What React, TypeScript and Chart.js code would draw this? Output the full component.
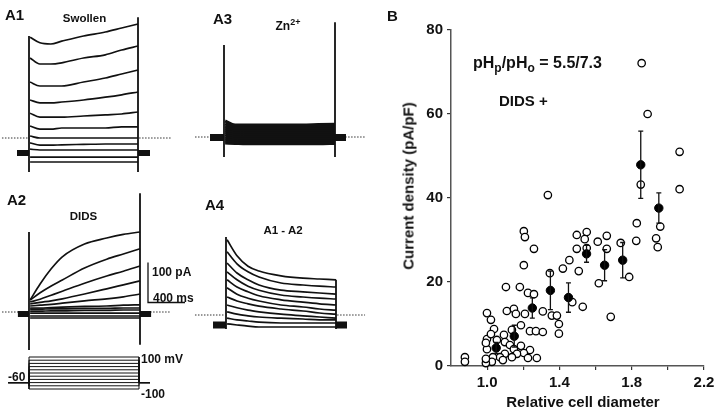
import React, { useEffect, useRef } from "react";
import { Chart, registerables } from "chart.js";

Chart.register(...registerables);

// ================= Panel A: whole-cell current traces =================
const stepVoltagesMv = [100, 80, 60, 40, 20, 0, -20, -40, -60, -80, -100];
const holdingMv = -60;
const stepDurationMs = 1000;
const traceTimesMs = [10, 100, 200, 300, 500, 700, 850, 1000];

// A1 swollen (pA), one row per step voltage (+100 ... -100 mV)
const a1SwollenPa = [
  [252, 238, 235, 242, 255, 265, 275, 285],
  [200, 185, 185, 188, 200, 208, 220, 230],
  [140, 130, 130, 130, 140, 150, 160, 170],
  [95, 88, 88, 90, 95, 102, 108, 115],
  [62, 52, 52, 52, 55, 58, 60, 65],
  [30, 22, 22, 25, 25, 25, 28, 28],
  [5, 0, 0, 0, 0, 0, 0, 0],
  [-12, -18, -18, -17, -16, -15, -15, -15],
  [-28, -30, -30, -30, -30, -30, -30, -30],
  [-48, -48, -48, -48, -48, -48, -48, -48],
  [-60, -60, -60, -60, -60, -60, -60, -60],
];
// A2 DIDS (pA)
const a2DidsPa = [
  [30, 70, 108, 138, 170, 185, 194, 200],
  [30, 48, 65, 80, 110, 132, 145, 158],
  [25, 32, 42, 52, 72, 90, 102, 115],
  [20, 24, 28, 33, 45, 58, 68, 78],
  [15, 17, 19, 22, 28, 33, 38, 45],
  [10, 10, 11, 12, 14, 15, 17, 18],
  [7, 7, 8, 8, 9, 9, 10, 10],
  [2, 2, 3, 3, 4, 4, 5, 5],
  [-3, -3, -3, -3, -3, -3, -3, -3],
  [-10, -10, -10, -10, -10, -10, -10, -10],
  [-15, -15, -15, -15, -15, -15, -15, -15],
];
// A3 Zn2+ (pA)
const a3ZincPa = [
  [40, 30, 30, 30, 30, 30, 31, 32],
  [33, 26, 26, 26, 26, 26, 27, 27],
  [27, 22, 22, 22, 22, 22, 22, 22],
  [22, 18, 17, 17, 17, 17, 17, 18],
  [17, 13, 12, 12, 12, 12, 12, 13],
  [12, 8, 7, 7, 7, 7, 7, 8],
  [6, 3, 2, 2, 2, 2, 2, 3],
  [0, -2, -3, -3, -3, -3, -3, -2],
  [-5, -7, -8, -8, -8, -8, -8, -7],
  [-10, -12, -13, -13, -13, -13, -13, -12],
  [-15, -16, -17, -17, -17, -17, -17, -16],
];
// A4 A1 - A2 (pA)
const a4DiffPa = [
  [188, 148, 122, 110, 98, 92, 90, 88],
  [158, 128, 108, 95, 80, 75, 72, 70],
  [130, 105, 88, 75, 62, 58, 55, 52],
  [108, 88, 72, 62, 50, 45, 42, 40],
  [88, 70, 58, 48, 38, 32, 28, 25],
  [68, 52, 42, 35, 25, 20, 15, 12],
  [45, 35, 28, 22, 15, 10, 5, 2],
  [25, 18, 12, 8, 2, -2, -5, -8],
  [8, 2, -2, -5, -8, -10, -12, -12],
  [-8, -12, -15, -18, -20, -20, -20, -20],
  [-22, -25, -28, -30, -30, -30, -30, -30],
];

const a1HoldingPa = -37.5;
const a2HoldingPa = -5;
const a3HoldingPa = -1;
const a4HoldingPa = -25;
const a1HoldingTimesMs = [-110, 0, 1000, 1110];
const a2HoldingTimesMs = [-100, 0, 1000, 1100];
const a3HoldingTimesMs = [-126, 0, 1000, 1099];
const a4HoldingTimesMs = [-118, 0, 1000, 1100];
const a1ZeroTimesMs = [-248, -10, 1010, 1311];
const a2ZeroTimesMs = [-243, -10, 1010, 1270];
const a3ZeroTimesMs = [-261, -10, 1010, 1270];
const a4ZeroTimesMs = [-282, -10, 1010, 1264];
const a1OnsetPa = [255, -85];
const a1OffsetPa = [302, -85];
const a2OnsetPa = [200, -95];
const a2OffsetPa = [297, -82];
const a3OnsetPa = [230, -50];
const a3OffsetPa = [287, -50];
const a4OnsetPa = [195, -35];
const a4OffsetPa = [88, -35];

const protocolTimesMs = [-190, 0, 1000, 1100];
const scaleBarPa = 100;
const scaleBarMs = 400;

// ================= Panel B: current density vs diameter =================
const cellDiameter = [
  1.855, 1.888, 2.065, 1.85, 2.065, 1.336, 1.828, 1.958, 1.825, 1.935, 1.944,
  1.496, 1.551, 1.54, 1.496, 1.551, 1.612, 1.662, 1.662, 1.739, 1.455, 1.419,
  1.507, 1.347, 1.618, 1.786, 1.203, 1.209, 1.259, 1.203, 1.104, 1.181, 1.226,
  1.259, 1.471, 1.529, 1.684,
  0.999, 1.021, 1.109, 1.148, 1.159, 1.209, 1.308, 1.358, 1.386, 1.187, 1.397,
  1.038, 1.137, 1.237, 1.27, 1.308, 1.397, 0.999, 1.054, 1.021, 1.093, 0.999,
  0.993, 1.098, 1.126, 1.148, 1.187, 1.237, 1.203, 1.165, 1.137, 1.098, 1.071,
  1.032, 1.275, 1.226, 1.026, 1.087, 0.993, 0.993, 0.877, 0.877,
];
const cellDensity = [
  72.1, 60.0, 51.0, 43.2, 42.1, 40.7, 34.0, 33.2, 29.8, 30.4, 28.3,
  31.2, 31.9, 30.2, 27.9, 28.1, 29.6, 31.0, 27.9, 29.3, 25.2, 23.2,
  22.6, 22.1, 19.7, 21.2, 32.1, 30.7, 27.9, 24.0, 18.8, 18.8, 17.4,
  17.1, 15.2, 14.1, 11.7,
  12.6, 11.0, 13.1, 13.6, 12.4, 12.4, 13.0, 12.0, 12.0, 9.7, 10.0,
  8.8, 8.6, 8.3, 8.3, 8.1, 7.7, 6.4, 6.2, 7.6, 7.4, 4.0,
  5.5, 5.7, 5.0, 4.0, 4.8, 3.8, 3.1, 2.9, 2.1, 2.9, 2.1,
  2.1, 1.9, 1.9, 1.0, 1.4, 0.7, 1.7, 2.1, 1.0,
];
const binDiameter = [1.05, 1.15, 1.25, 1.35, 1.45, 1.55, 1.65, 1.75, 1.85, 1.95];
const binMeanDensity = [4.3, 7.1, 13.8, 18.0, 16.3, 26.7, 24.0, 25.2, 47.9, 37.6];
const binSemDensity = [1.3, 2.6, 2.4, 4.6, 3.5, 2.0, 3.7, 4.2, 8.0, 3.6];
const xTickValues = [1.0, 1.2, 1.4, 1.6, 1.8, 2.0, 2.2];
const xTickLabels = ["1.0", "", "1.4", "", "1.8", "", "2.2"];
const yTickValues = [0, 20, 40, 60, 80];
const yTickLabels = ["0", "20", "40", "60", "80"];

// ================= layout & style =================
const FONT = '"Liberation Sans", Arial, Helvetica, sans-serif';
const INK = "#111";
const PA_PER_PX = 2.5;

type Box = { left: number; top: number; width: number; height: number };

type TraceSpec = {
  box: Box;
  stepStartPx: number;
  stepEndPx: number;
  zeroPx: number;
  currents: number[][];
  holding: number;
  holdingTimes: number[];
  zeroTimes: number[];
  onset: number[];
  offset: number[];
  traceWidth: number;
  holdingWidth: number;
  scaleBarCorner?: { x: number; y: number };
};

const straight = {
  pointRadius: 0,
  tension: 0,
  cubicInterpolationMode: "default",
  borderColor: INK,
  fill: false,
  spanGaps: false,
};

function buildTraceChart(canvas: HTMLCanvasElement, s: TraceSpec): Chart {
  const msPerPx = stepDurationMs / (s.stepEndPx - s.stepStartPx);
  const xMin = (s.box.left - s.stepStartPx) * msPerPx;
  const xMax = (s.box.left + s.box.width - s.stepStartPx) * msPerPx;
  const yMax = (s.zeroPx - s.box.top) * PA_PER_PX;
  const yMin = (s.zeroPx - (s.box.top + s.box.height)) * PA_PER_PX;
  const datasets: any[] = [];
  s.currents.forEach((row) =>
    datasets.push({
      data: traceTimesMs.map((t, i) => ({ x: t, y: row[i] })),
      pointRadius: 0,
      borderColor: INK,
      borderWidth: s.traceWidth,
      cubicInterpolationMode: "monotone",
      fill: false,
      order: 1,
    })
  );
  datasets.push({
    ...straight,
    data: [{ x: 0, y: s.onset[0] }, { x: 0, y: s.onset[1] }],
    borderWidth: 1.8,
    order: 1,
  });
  datasets.push({
    ...straight,
    data: [{ x: stepDurationMs, y: s.offset[0] }, { x: stepDurationMs, y: s.offset[1] }],
    borderWidth: 1.8,
    order: 1,
  });
  const [h0, h1, h2, h3] = s.holdingTimes;
  datasets.push({
    ...straight,
    data: [
      { x: h0, y: s.holding },
      { x: h1, y: s.holding },
      { x: (h1 + h2) / 2, y: null },
      { x: h2, y: s.holding },
      { x: h3, y: s.holding },
    ],
    borderWidth: s.holdingWidth,
    order: 1,
  });
  const [z0, z1, z2, z3] = s.zeroTimes;
  datasets.push({
    ...straight,
    data: [
      { x: z0, y: 0 },
      { x: z1, y: 0 },
      { x: (z1 + z2) / 2, y: null },
      { x: z2, y: 0 },
      { x: z3, y: 0 },
    ],
    borderWidth: 1,
    borderDash: [1.5, 1.5],
    borderColor: "#333",
    order: 2,
  });

  const plugins: any[] = [];
  if (s.scaleBarCorner) {
    const corner = s.scaleBarCorner;
    plugins.push({
      id: "scaleBar",
      afterDatasetsDraw(chart: any) {
        const { x, y } = chart.scales;
        const lenY = y.getPixelForValue(0) - y.getPixelForValue(scaleBarPa);
        const lenX = x.getPixelForValue(scaleBarMs) - x.getPixelForValue(0);
        const cx = corner.x - s.box.left;
        const cy = corner.y - s.box.top;
        const ctx = chart.ctx;
        ctx.save();
        ctx.strokeStyle = INK;
        ctx.lineWidth = 1.3;
        ctx.beginPath();
        ctx.moveTo(cx, cy - lenY);
        ctx.lineTo(cx, cy);
        ctx.lineTo(cx + lenX, cy);
        ctx.stroke();
        ctx.restore();
      },
    });
  }

  return new Chart(canvas, {
    type: "line",
    data: { datasets },
    options: {
      animation: false,
      responsive: false,
      events: [],
      layout: { padding: 0 },
      plugins: { legend: { display: false }, tooltip: { enabled: false } },
      scales: {
        x: { type: "linear", display: false, min: xMin, max: xMax },
        y: { type: "linear", display: false, min: yMin, max: yMax },
      },
    } as any,
    plugins,
  });
}

function buildProtocolChart(canvas: HTMLCanvasElement, box: Box): Chart {
  const stepStartPx = 29;
  const stepEndPx = 139;
  const topPx = 357; // +100 mV
  const bottomPx = 389; // -100 mV
  const msPerPx = stepDurationMs / (stepEndPx - stepStartPx);
  const mvPerPx = 200 / (bottomPx - topPx);
  const [p0, p1, p2, p3] = protocolTimesMs;
  const datasets = stepVoltagesMv.map((v) => ({
    ...straight,
    data: [
      { x: p0, y: holdingMv },
      { x: p1, y: holdingMv },
      { x: p1, y: v },
      { x: p2, y: v },
      { x: p2, y: holdingMv },
      { x: p3, y: holdingMv },
    ],
    borderWidth: 1,
  }));
  return new Chart(canvas, {
    type: "line",
    data: { datasets },
    options: {
      animation: false,
      responsive: false,
      events: [],
      layout: { padding: 0 },
      plugins: { legend: { display: false }, tooltip: { enabled: false } },
      scales: {
        x: {
          type: "linear",
          display: false,
          min: (box.left - stepStartPx) * msPerPx,
          max: (box.left + box.width - stepStartPx) * msPerPx,
        },
        y: {
          type: "linear",
          display: false,
          min: -100 - (box.top + box.height - bottomPx) * mvPerPx,
          max: 100 + (topPx - box.top) * mvPerPx,
        },
      },
    } as any,
  });
}

function buildScatterChart(canvas: HTMLCanvasElement): Chart {
  const tickFont = { family: FONT, size: 15, weight: "bold" as const };
  const errorBars = {
    id: "errorBars",
    afterDatasetsDraw(chart: any) {
      const { x, y } = chart.scales;
      const ctx = chart.ctx;
      ctx.save();
      ctx.strokeStyle = INK;
      ctx.lineWidth = 1.3;
      binDiameter.forEach((d, i) => {
        const px = x.getPixelForValue(d);
        const top = y.getPixelForValue(binMeanDensity[i] + binSemDensity[i]);
        const bot = y.getPixelForValue(binMeanDensity[i] - binSemDensity[i]);
        ctx.beginPath();
        ctx.moveTo(px, top);
        ctx.lineTo(px, bot);
        ctx.moveTo(px - 2.5, top);
        ctx.lineTo(px + 2.5, top);
        ctx.moveTo(px - 2.5, bot);
        ctx.lineTo(px + 2.5, bot);
        ctx.stroke();
      });
      ctx.restore();
    },
  };
  return new Chart(canvas, {
    type: "scatter",
    data: {
      datasets: [
        {
          label: "mean",
          data: binDiameter.map((d, i) => ({ x: d, y: binMeanDensity[i] })),
          pointRadius: 4.2,
          pointBackgroundColor: "#000",
          pointBorderColor: "#000",
          pointBorderWidth: 1,
          clip: false,
          order: 0,
        },
        {
          label: "cells",
          data: cellDiameter.map((d, i) => ({ x: d, y: cellDensity[i] })),
          pointRadius: 3.7,
          pointBackgroundColor: "#fff",
          pointBorderColor: "#000",
          pointBorderWidth: 1.3,
          clip: false,
          order: 1,
        },
      ],
    },
    options: {
      animation: false,
      responsive: false,
      events: [],
      layout: { padding: { top: 30, right: 16, bottom: 0, left: 0 } },
      plugins: { legend: { display: false }, tooltip: { enabled: false } },
      scales: {
        x: {
          type: "linear",
          min: 0.8,
          max: 2.2,
          afterBuildTicks: (sc: any) => {
            sc.ticks = xTickValues.map((v) => ({ value: v }));
          },
          afterFit: (sc: any) => {
            sc.height = 48;
          },
          ticks: {
            autoSkip: false,
            maxRotation: 0,
            padding: 4,
            color: INK,
            font: tickFont,
            callback: (v: number) => {
              const i = xTickValues.findIndex((t) => Math.abs(t - v) < 1e-6);
              return i >= 0 ? xTickLabels[i] : "";
            },
          },
          grid: { drawOnChartArea: false, drawTicks: true, tickLength: 4, color: "#333", lineWidth: 1.2 },
          border: { display: true, color: "#555", width: 1.5 },
        },
        y: {
          type: "linear",
          min: 0,
          max: 80,
          afterBuildTicks: (sc: any) => {
            sc.ticks = yTickValues.map((v) => ({ value: v }));
          },
          afterFit: (sc: any) => {
            sc.width = 71;
          },
          ticks: {
            autoSkip: false,
            padding: 4,
            color: INK,
            font: tickFont,
            callback: (v: number) => {
              const i = yTickValues.findIndex((t) => Math.abs(t - v) < 1e-6);
              return i >= 0 ? yTickLabels[i] : "";
            },
          },
          grid: { drawOnChartArea: false, drawTicks: true, tickLength: 4, color: "#333", lineWidth: 1.2 },
          border: { display: true, color: "#555", width: 1.5 },
        },
      },
    } as any,
    plugins: [errorBars],
  });
}

function ChartBox({ box, build }: { box: Box; build: (c: HTMLCanvasElement) => Chart }) {
  const ref = useRef<HTMLCanvasElement>(null);
  useEffect(() => {
    const chart = build(ref.current as HTMLCanvasElement);
    return () => chart.destroy();
  }, []);
  return (
    <canvas
      ref={ref}
      width={box.width}
      height={box.height}
      style={{ position: "absolute", left: box.left, top: box.top, width: box.width, height: box.height }}
    />
  );
}

function Label({
  x,
  cy,
  size,
  center,
  children,
}: {
  x: number;
  cy: number;
  size: number;
  center?: boolean;
  children: React.ReactNode;
}) {
  return (
    <div
      style={{
        position: "absolute",
        left: x,
        top: cy - size / 2,
        fontSize: size,
        lineHeight: `${size}px`,
        whiteSpace: "nowrap",
        transform: center ? "translateX(-50%)" : undefined,
      }}
    >
      {children}
    </div>
  );
}

const a1Spec: TraceSpec = {
  box: { left: 0, top: 0, width: 185, height: 180 },
  stepStartPx: 29,
  stepEndPx: 138,
  zeroPx: 138,
  currents: a1SwollenPa,
  holding: a1HoldingPa,
  holdingTimes: a1HoldingTimesMs,
  zeroTimes: a1ZeroTimesMs,
  onset: a1OnsetPa,
  offset: a1OffsetPa,
  traceWidth: 1.7,
  holdingWidth: 6,
};
const a2Spec: TraceSpec = {
  box: { left: 0, top: 185, width: 185, height: 168 },
  stepStartPx: 29,
  stepEndPx: 140,
  zeroPx: 312,
  currents: a2DidsPa,
  holding: a2HoldingPa,
  holdingTimes: a2HoldingTimesMs,
  zeroTimes: a2ZeroTimesMs,
  onset: a2OnsetPa,
  offset: a2OffsetPa,
  traceWidth: 1.7,
  holdingWidth: 6,
  scaleBarCorner: { x: 148, y: 302.5 },
};
const a3Spec: TraceSpec = {
  box: { left: 190, top: 0, width: 185, height: 180 },
  stepStartPx: 224,
  stepEndPx: 335,
  zeroPx: 137,
  currents: a3ZincPa,
  holding: a3HoldingPa,
  holdingTimes: a3HoldingTimesMs,
  zeroTimes: a3ZeroTimesMs,
  onset: a3OnsetPa,
  offset: a3OffsetPa,
  traceWidth: 3,
  holdingWidth: 7,
};
const a4Spec: TraceSpec = {
  box: { left: 190, top: 185, width: 185, height: 160 },
  stepStartPx: 226,
  stepEndPx: 336,
  zeroPx: 315,
  currents: a4DiffPa,
  holding: a4HoldingPa,
  holdingTimes: a4HoldingTimesMs,
  zeroTimes: a4ZeroTimesMs,
  onset: a4OnsetPa,
  offset: a4OffsetPa,
  traceWidth: 1.7,
  holdingWidth: 7,
};
const protocolBox: Box = { left: 0, top: 350, width: 185, height: 50 };
const scatterBox: Box = { left: 380, top: 0, width: 340, height: 414 };

export default function App() {
  return (
    <div
      style={{
        position: "absolute",
        left: 0,
        top: 0,
        width: 720,
        height: 414,
        background: "#fff",
        overflow: "hidden",
        fontFamily: FONT,
        fontWeight: "bold",
        color: INK,
      }}
    >
      <ChartBox box={a1Spec.box} build={(c) => buildTraceChart(c, a1Spec)} />
      <ChartBox box={a2Spec.box} build={(c) => buildTraceChart(c, a2Spec)} />
      <ChartBox box={a3Spec.box} build={(c) => buildTraceChart(c, a3Spec)} />
      <ChartBox box={a4Spec.box} build={(c) => buildTraceChart(c, a4Spec)} />
      <ChartBox box={protocolBox} build={(c) => buildProtocolChart(c, protocolBox)} />
      <ChartBox box={scatterBox} build={buildScatterChart} />

      <Label x={5} cy={14.5} size={15}>A1</Label>
      <Label x={84.5} cy={19} size={11.5} center>Swollen</Label>
      <Label x={213} cy={18.5} size={15}>A3</Label>
      <Label x={288} cy={26} size={12} center>
        Zn<sup style={{ fontSize: 9, lineHeight: 0, verticalAlign: "super" }}>2+</sup>
      </Label>
      <Label x={7} cy={199.5} size={15}>A2</Label>
      <Label x={83.5} cy={217} size={11.5} center>DIDS</Label>
      <Label x={205} cy={204} size={15}>A4</Label>
      <Label x={283} cy={231} size={11.5} center>A1 - A2</Label>
      <Label x={152} cy={272} size={12}>100 pA</Label>
      <Label x={153} cy={298} size={12}>400 ms</Label>
      <Label x={141} cy={359} size={12}>100 mV</Label>
      <Label x={8} cy={377} size={12}>-60</Label>
      <Label x={141} cy={394} size={12}>-100</Label>

      <Label x={387} cy={15.5} size={15}>B</Label>
      <Label x={473} cy={63} size={16}>
        pH
        <span style={{ fontSize: 12, position: "relative", top: 4 }}>p</span>
        /pH
        <span style={{ fontSize: 12, position: "relative", top: 4 }}>o</span>
        {" = 5.5/7.3"}
      </Label>
      <Label x={499} cy={100} size={15}>DIDS +</Label>
      <div
        style={{
          position: "absolute",
          left: 408,
          top: 186,
          fontSize: 15,
          lineHeight: "15px",
          whiteSpace: "nowrap",
          transform: "translate(-50%, -50%) rotate(-90deg)",
        }}
      >
        Current density (pA/pF)
      </div>
      <Label x={583} cy={401} size={15} center>Relative cell diameter</Label>
    </div>
  );
}
